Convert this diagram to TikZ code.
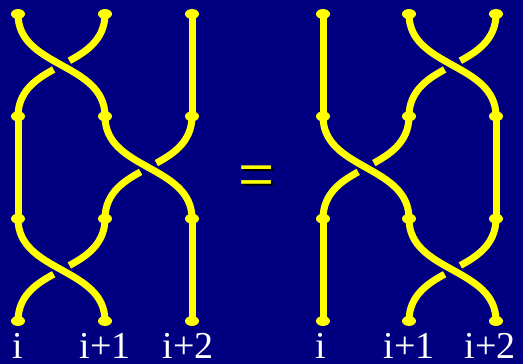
\documentclass[tikz,border=0pt]{standalone}
\usepackage{fontspec}
\setmainfont{Liberation Serif}
\usetikzlibrary{calc,shapes.geometric}
\pgfdeclarelayer{bg}
\pgfsetlayers{bg,main}
\definecolor{navybg}{RGB}{0,0,128}
\definecolor{strandyellow}{RGB}{255,255,0}
\tikzset{
  braiddot/.style={ellipse,fill=strandyellow,minimum width=14pt,minimum height=10pt,inner sep=0pt},
  strand/.style={draw=strandyellow,line width=7pt},
  lbl/.style={text=white,font=\fontsize{38}{38}\selectfont,anchor=base,inner sep=0pt},
  eqsign/.style={font=\fontsize{64}{64}\selectfont,anchor=base,inner sep=0pt},
}
\newcommand\overstrand[2]{%
  \draw[strand] (#1.center) .. controls +(0,-54) and +(0,54) .. (#2.center);}
\newcommand\understrand[2]{%
  \draw[strand,shorten >=9pt] (#1.center) .. controls ($(#1.center)+(0,-27)$) and ($(#1.center)!0.25!(#2.center)+(0,-13.5)$) .. ($(#1.center)!0.5!(#2.center)$);
  \draw[strand,shorten >=9pt] (#2.center) .. controls ($(#2.center)+(0,27)$) and ($(#1.center)!0.75!(#2.center)+(0,13.5)$) .. ($(#1.center)!0.5!(#2.center)$);}
\begin{document}
\begin{tikzpicture}[x=1pt,y=1pt]
\begin{pgfonlayer}{bg}
  \fill[navybg] (0,0) rectangle (523,-364);
\end{pgfonlayer}
\useasboundingbox (0,0) rectangle (523,-364);
% dots
\foreach \r/\y in {0/14,1/116.3,2/218.7,3/321}{
  \foreach \c/\x in {1/18,2/105,3/192}{
    \node[braiddot] (L\c\r) at (\x,-\y) {};}
  \foreach \c/\x in {1/323,2/409,3/496}{
    \node[braiddot] (R\c\r) at (\x,-\y) {};}
}
\begin{pgfonlayer}{bg}
  % left braid
  \understrand{L20}{L11}\overstrand{L10}{L21}\draw[strand] (L30.center) -- (L31.center);
  \draw[strand] (L11.center) -- (L12.center);\understrand{L31}{L22}\overstrand{L21}{L32}
  \understrand{L22}{L13}\overstrand{L12}{L23}\draw[strand] (L32.center) -- (L33.center);
  % right braid
  \draw[strand] (R10.center) -- (R11.center);\understrand{R30}{R21}\overstrand{R20}{R31}
  \understrand{R21}{R12}\overstrand{R11}{R22}\draw[strand] (R31.center) -- (R32.center);
  \draw[strand] (R12.center) -- (R13.center);\understrand{R32}{R23}\overstrand{R22}{R33}
\end{pgfonlayer}
% labels
\node[lbl] (tLi)  at (18,-358) {i};
\node[lbl] (tLi1) at (105,-358) {i+1};
\node[lbl] (tLi2) at (188,-358) {i+2};
\node[lbl] (tRi)  at (321,-358) {i};
\node[lbl] (tRi1) at (409,-358) {i+1};
\node[lbl] (tRi2) at (490,-358) {i+2};
% equals sign with shadow (one node)
\node[eqsign,text=strandyellow] (eq) at (257,-199.5)
  {\scalebox{1}[1.15]{\rlap{\kern2pt\raisebox{-2pt}{\color{black}=}}=}};
\end{tikzpicture}
\end{document}
